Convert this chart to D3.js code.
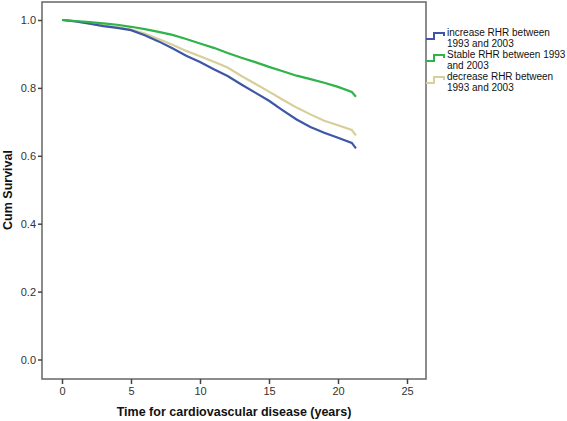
<!DOCTYPE html>
<html><head><meta charset="utf-8">
<script src="https://cdn.jsdelivr.net/npm/d3@7/dist/d3.min.js"></script>
<style>body{margin:0;background:#fff}svg{display:block}</style>
</head><body>
<script>
const times = [0,1,2,3,4,5,6,7,8,9,10,11,12,13,14,15,16,17,18,19,20,21,21.3];
const increaseRHR = [1.000,0.996,0.989,0.982,0.977,0.970,0.955,0.937,0.917,0.895,0.876,0.855,0.835,0.810,0.786,0.762,0.734,0.707,0.685,0.668,0.653,0.638,0.622];
const stableRHR   = [1.000,0.997,0.994,0.990,0.986,0.980,0.973,0.965,0.956,0.944,0.931,0.918,0.903,0.889,0.876,0.862,0.849,0.836,0.826,0.815,0.803,0.788,0.774];
const decreaseRHR = [1.000,0.996,0.990,0.984,0.979,0.972,0.960,0.944,0.927,0.909,0.893,0.877,0.860,0.835,0.812,0.789,0.765,0.742,0.722,0.703,0.690,0.676,0.660];
const seriesNames = ["increase RHR between\n1993 and 2003","Stable RHR between 1993\nand 2003","decrease RHR between\n1993 and 2003"];
const seriesColors = ["#3d56a6","#2fb34b","#d6cf99"];
const xTicks = [0,5,10,15,20,25];
const yTicks = [0.0,0.2,0.4,0.6,0.8,1.0];

const W=567,H=421;
const box={l:42,r:426,t:2,b:379};
const svg=d3.select("body").append("svg").attr("width",W).attr("height",H);
const x=d3.scaleLinear().domain([0,25]).range([62,407]);
const y=d3.scaleLinear().domain([0,1]).range([359.5,20]);
const axisCol="#666";
const FF="Liberation Sans, Arial, sans-serif";

svg.append("rect").attr("x",box.l).attr("y",box.t).attr("width",box.r-box.l).attr("height",box.b-box.t)
  .attr("fill","none").attr("stroke",axisCol).attr("stroke-width",1.5);

const xa=svg.append("g").attr("transform",`translate(0,${box.b})`)
  .call(d3.axisBottom(x).tickValues(xTicks).tickSize(5).tickPadding(3).tickFormat(d3.format("d")));
const ya=svg.append("g").attr("transform",`translate(${box.l},0)`)
  .call(d3.axisLeft(y).tickValues(yTicks).tickSize(4).tickPadding(2).tickFormat(d3.format(".1f")));
[xa,ya].forEach(a=>{
  a.select(".domain").remove();
  a.selectAll(".tick line").attr("stroke","#444").attr("stroke-width",1.5);
  a.selectAll(".tick text").attr("fill","#333").style("font-family",FF).style("font-size","11px");
});

const all=[increaseRHR,stableRHR,decreaseRHR];
const line=d3.line().x(d=>x(d[0])).y(d=>y(d[1])).curve(d3.curveLinear);
[2,0,1].forEach(i=>{
  svg.append("path").datum(times.map((t,k)=>[t,all[i][k]]))
    .attr("d",line).attr("fill","none").attr("stroke",seriesColors[i]).attr("stroke-width",2.2);
});

// legend
const lg=svg.append("g").style("font-family",FF).style("font-size","10px").attr("fill","#111");
const ly=[36,58,80];
seriesNames.forEach((n,i)=>{
  const y0=ly[i];
  lg.append("path").attr("d",`M426,${y0+3}H434V${y0-3}H444V${y0}`).attr("fill","none")
    .attr("stroke",seriesColors[i]).attr("stroke-width",2);
  const t=lg.append("text").attr("x",447).attr("y",y0);
  n.split("\n").forEach((s,j)=>t.append("tspan").attr("x",447).attr("dy",j?10.5:0).text(s));
});

svg.append("text").attr("x",234).attr("y",416).attr("text-anchor","middle")
  .style("font-family",FF).style("font-size","12.5px").style("font-weight","bold")
  .attr("fill","#111").text("Time for cardiovascular disease (years)");
svg.append("text").attr("transform","translate(12,190) rotate(-90)").attr("text-anchor","middle")
  .style("font-family",FF).style("font-size","12.5px").style("font-weight","bold")
  .attr("fill","#111").text("Cum Survival");
</script>
</body></html>
